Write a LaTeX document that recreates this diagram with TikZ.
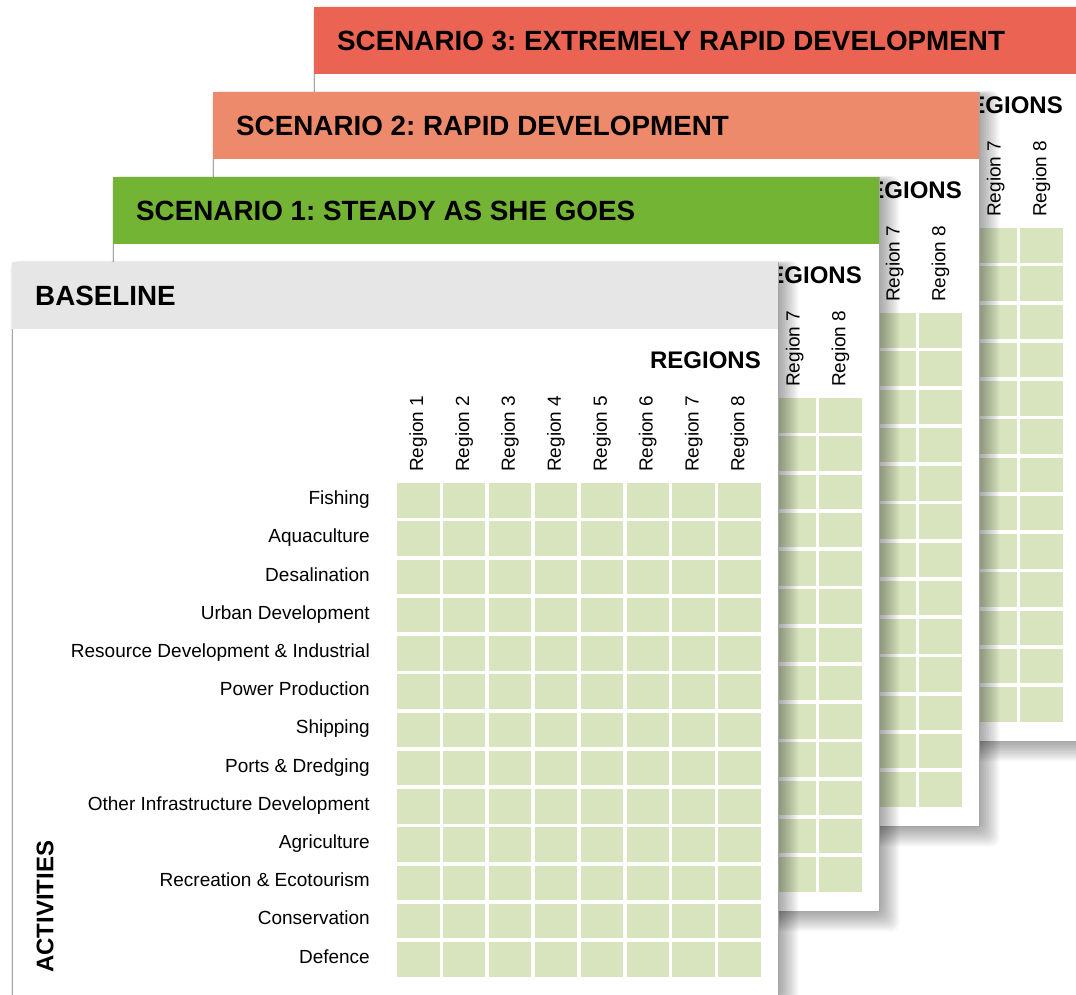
\documentclass[tikz,border=0pt]{standalone}
\usepackage{fontspec}
\setmainfont{Liberation Sans}
\frenchspacing
\definecolor{hdrgray}{HTML}{E6E6E6}
\definecolor{hdrgreen}{HTML}{73B434}
\definecolor{hdrsalmon}{HTML}{EE8A6C}
\definecolor{hdrred}{HTML}{EB6353}
\definecolor{cellgreen}{HTML}{D7E4BD}
\definecolor{cardedge}{HTML}{A6A6A6}
\tikzset{
  cardbox/.style={fill=white, draw=cardedge, line width=0.8pt},
  hdrtext/.style={anchor=west, inner sep=0pt, font=\fontsize{27.8}{30}\selectfont\bfseries},
  bigtext/.style={inner sep=0pt, font=\fontsize{24}{26}\selectfont\bfseries},
  regtext/.style={rotate=90, anchor=west, inner sep=0pt, font=\fontsize{19}{21}\selectfont},
  acttext/.style={anchor=base east, inner sep=0pt, font=\fontsize{19}{21}\selectfont},
  cellbox/.style={fill=cellgreen, draw=none}
}
% card frame: shadow, box, header, title, REGIONS, grid, and the labels of columns from #6 to 8
\newcommand\mycard[6]{%
  \foreach \k in {1,...,12}{
    \fill[black, opacity=0.03, rounded corners=8pt]
      ({#1+4-\k*0.45},{#2+4-\k*0.45}) rectangle ({#1+766+\k*1.7},{#2+734+\k*1.7});
  }
  \node[cardbox, minimum width=766pt, minimum height=734pt, anchor=north west, inner sep=0pt] (#5-card) at (#1,#2) {};
  \fill[#3] ({#1+0.4},{#2+0.4}) rectangle ({#1+765.6},{#2+67});
  \node[hdrtext] (#5-title) at ({#1+23},{#2+33.5}) {#4};
  \node[bigtext, anchor=east] (#5-regions) at ({#1+749},{#2+98}) {REGIONS};
  \foreach \j in {0,...,7}{
    \foreach \i in {0,...,12}{
      \fill[cellbox] ({#1+385+\j*45.9},{#2+221+\i*38.25}) rectangle ++(42.5,34.5);
    }
  }
  \foreach \jj in {#6,...,8}{
    \node[regtext] (#5-reg\jj) at ({#1+385+21.25+(\jj-1)*45.9},{#2+210}) {Region \jj};
  }
}
\begin{document}
\begin{tikzpicture}[x=1pt,y=-1pt]
\useasboundingbox (0,0) rectangle (1076,994);
\clip (0,0) rectangle (1076,994);
\fill[white] (0,0) rectangle (1076,994);
\mycard{314}{7}{hdrred}{SCENARIO 3: EXTREMELY RAPID DEVELOPMENT}{s3}{7}
\mycard{213}{92}{hdrsalmon}{SCENARIO 2: RAPID DEVELOPMENT}{s2}{7}
\mycard{113}{177}{hdrgreen}{SCENARIO 1: STEADY AS SHE GOES}{s1}{7}
\mycard{12}{262}{hdrgray}{BASELINE}{b0}{1}
\foreach \a [count=\i from 0] in {Fishing, Aquaculture, Desalination, Urban Development,
    Resource Development \& Industrial, Power Production, Shipping, Ports \& Dredging,
    Other Infrastructure Development, Agriculture, Recreation \& Ecotourism,
    Conservation, Defence}{
  \node[acttext] (b0-act\i) at ({12+358},{262+221+17.25+4.5+\i*38.2}) {\a};
}
\node[bigtext, rotate=90, anchor=west] (b0-activities) at ({12+33},{262+711}) {ACTIVITIES};
\end{tikzpicture}
\end{document}
